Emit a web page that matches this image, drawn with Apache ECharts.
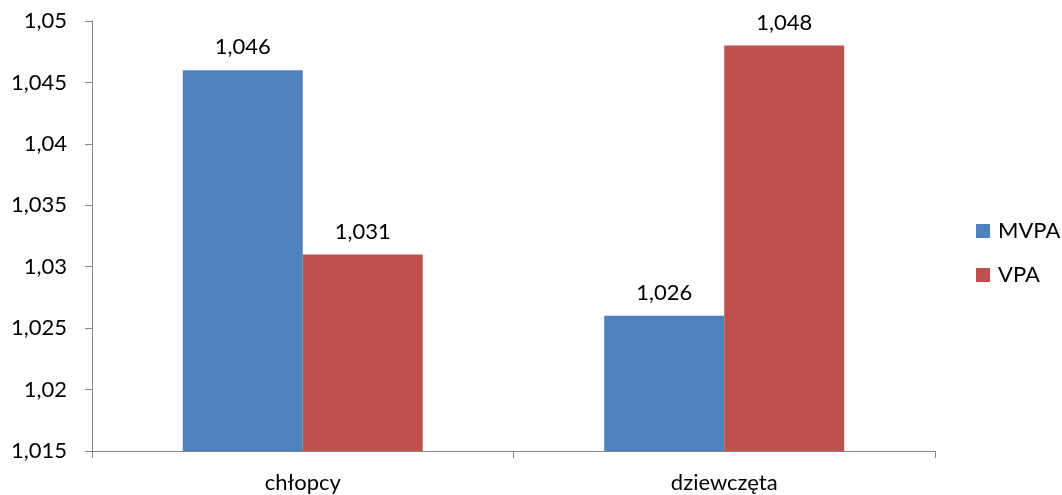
<!DOCTYPE html>
<html>
<head>
<meta charset="utf-8">
<script src="https://cdn.jsdelivr.net/npm/echarts@6/dist/echarts.min.js"></script>
<style>html,body{margin:0;padding:0;background:#fff}#c{width:1062px;height:495px}</style>
</head>
<body>
<div id="c"></div>
<script>
const categories = ['chłopcy', 'dziewczęta'];
const mvpa = [1.046, 1.026];
const vpa = [1.031, 1.048];
const yMin = 1.015, yMax = 1.05, yStep = 0.005;

const fmt = v => parseFloat(Number(v).toFixed(3)).toString().replace('.', ',');
const font = 'Lato, "Open Sans", sans-serif';
const fs = 22;
const chart = echarts.init(document.getElementById('c'));
chart.setOption({
  animation: false,
  textStyle: { fontFamily: font },
  grid: { left: 92, right: 127, top: 21, bottom: 44, containLabel: false },
  legend: {
    orient: 'vertical', left: 976, top: 220, padding: 0, itemWidth: 14, itemHeight: 14, itemGap: 22,
    icon: 'rect',
    textStyle: { fontSize: fs, color: '#000', fontFamily: font, padding: [0, 0, 0, 3] },
    data: ['MVPA', 'VPA']
  },
  xAxis: {
    type: 'category', data: categories,
    axisLine: { lineStyle: { color: '#868686', width: 1 } },
    axisTick: { show: true, length: 7, alignWithLabel: false, lineStyle: { color: '#868686' } },
    axisLabel: { fontSize: fs, color: '#000', margin: 21, fontFamily: font }
  },
  yAxis: {
    type: 'value', min: yMin, max: yMax, interval: yStep,
    splitLine: { show: false },
    axisLine: { show: true, lineStyle: { color: '#868686', width: 1 } },
    axisTick: { show: true, length: 7, lineStyle: { color: '#868686' } },
    axisLabel: { fontSize: fs, color: '#000', margin: 25, formatter: fmt, fontFamily: font }
  },
  series: [
    { name: 'MVPA', type: 'bar', data: mvpa, barWidth: 120, barGap: '0%',
      itemStyle: { color: '#4F81BD' },
      label: { show: true, position: 'top', distance: 12, fontSize: fs, color: '#000', formatter: p => fmt(p.value), fontFamily: font } },
    { name: 'VPA', type: 'bar', data: vpa, barWidth: 120, barGap: '0%',
      itemStyle: { color: '#C0504D' },
      label: { show: true, position: 'top', distance: 12, fontSize: fs, color: '#000', formatter: p => fmt(p.value), fontFamily: font } }
  ]
});
</script>
</body>
</html>
